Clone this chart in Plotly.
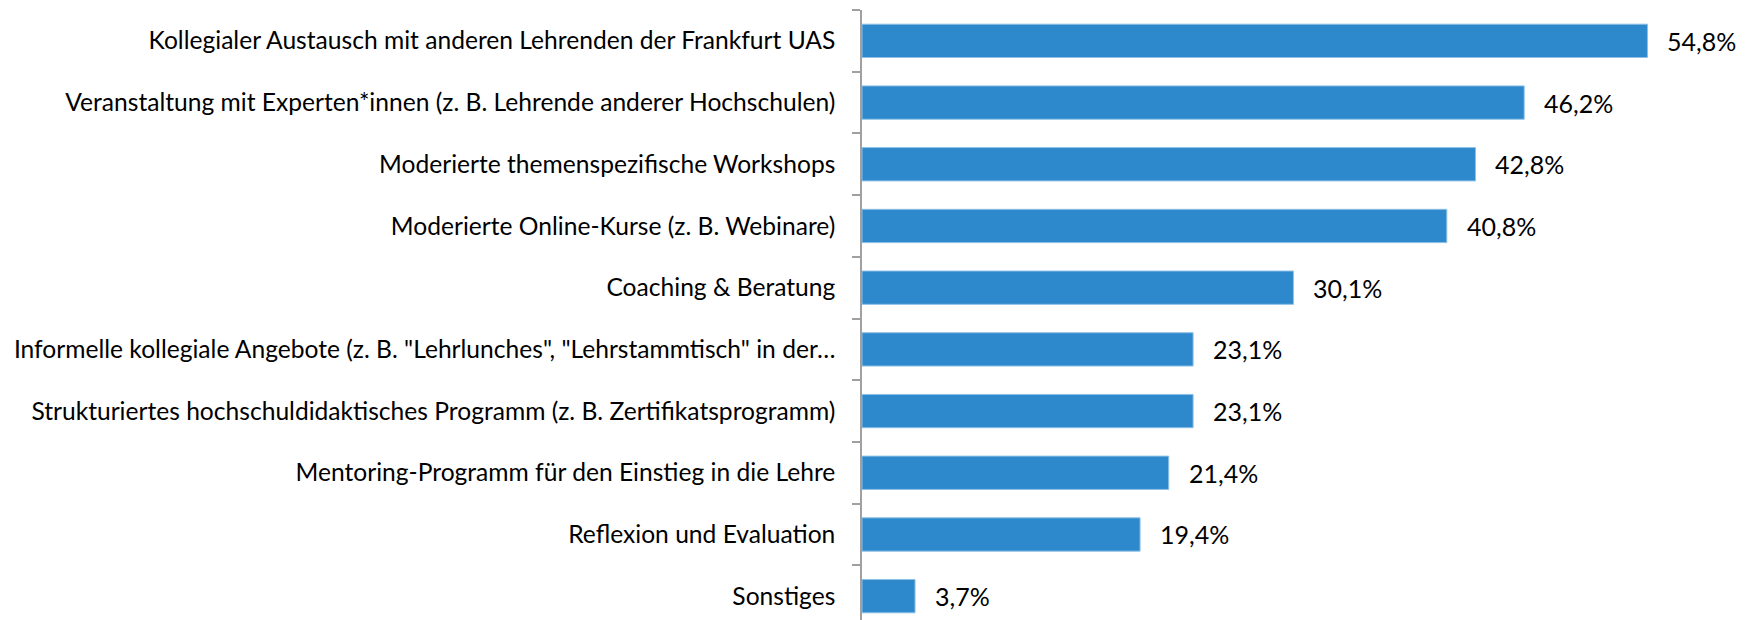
import plotly.graph_objects as go

categories = [
    "Kollegialer Austausch mit anderen Lehrenden der Frankfurt UAS",
    "Veranstaltung mit Experten*innen (z. B. Lehrende anderer Hochschulen)",
    "Moderierte themenspezifische Workshops",
    "Moderierte Online-Kurse (z. B. Webinare)",
    "Coaching & Beratung",
    "Informelle kollegiale Angebote (z. B. \"Lehrlunches\", \"Lehrstammtisch\" in der…",
    "Strukturiertes hochschuldidaktisches Programm (z. B. Zertifikatsprogramm)",
    "Mentoring-Programm für den Einstieg in die Lehre",
    "Reflexion und Evaluation",
    "Sonstiges",
]
values = [54.8, 46.2, 42.8, 40.8, 30.1, 23.1, 23.1, 21.4, 19.4, 3.7]
labels = ["54,8%", "46,2%", "42,8%", "40,8%", "30,1%", "23,1%", "23,1%", "21,4%", "19,4%", "3,7%"]

FONT = "Lato"
BLUE = "#2E89CC"

fig = go.Figure()
fig.add_trace(go.Bar(
    x=values, y=categories, orientation="h",
    marker=dict(color=BLUE, line=dict(color="#8EC0E6", width=1)),
    width=0.54,
    hoverinfo="skip",
))

for c, v, t in zip(categories, values, labels):
    fig.add_annotation(x=v, y=c, text=t, showarrow=False, xanchor="left",
                       xshift=18, font=dict(family=FONT, size=25, color="#000000"))

fig.update_layout(
    width=1746, height=612,
    margin=dict(l=854, r=32, t=2, b=0),
    paper_bgcolor="white", plot_bgcolor="white",
    showlegend=False,
    font=dict(family=FONT, size=24.6, color="#000000"),
    xaxis=dict(range=[0, 60], visible=False, showgrid=False, zeroline=False),
    yaxis=dict(
        type="category", categoryorder="array", categoryarray=categories,
        range=[9.386, -0.5], automargin=False,
        showline=True, linecolor="#A0A0A0", linewidth=1.5,
        ticks="outside", ticklen=8, tickcolor="#A0A0A0", tickwidth=1.5,
        tickson="boundaries", showgrid=False, zeroline=False,
        ticklabelstandoff=20,
        tickfont=dict(family=FONT, size=24.6, color="#000000"),
    ),
)

fig.write_html("out.html")
